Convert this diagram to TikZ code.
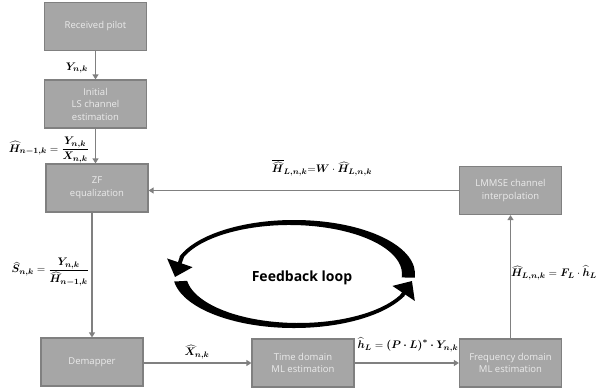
\documentclass[tikz,border=0pt]{standalone}
\usepackage{amsmath}
\usepackage{amssymb}
\usepackage{bm}
\usepackage{fontspec}
\setmainfont{Open Sans}
\usetikzlibrary{arrows.meta,calc}
\definecolor{boxfill}{HTML}{A6A6A6}
\definecolor{boxline}{HTML}{808080}
\definecolor{boxtext}{HTML}{EBEBEB}
\definecolor{flowline}{HTML}{808080}

\begin{document}
\begin{tikzpicture}[x=1pt,y=1pt,
    block/.style={draw=boxline,line width=1.2pt,fill=boxfill,text=boxtext,
      minimum width=102pt,minimum height=48pt,align=center,inner sep=2pt,
      font=\fontsize{9.5}{12.5}\selectfont},
    flow/.style={draw=flowline,line width=1.6pt,-{Triangle[width=6pt,length=5pt]}},
    loophead/.style={line width=4pt,-{Triangle[width=26pt,length=15pt]}},
    eq/.style={font=\fontsize{11}{13}\selectfont,inner sep=1pt}]
    \useasboundingbox (0,0) rectangle (603,391);
    % blocks
    \node[block] (pilot) at (95.5,364.5) {Received pilot};
    \node[block] (ls) at (95.5,287) {Initial\\LS channel\\estimation};
    \node[block] (zf) at (97,203) {ZF\\equalization};
    \node[block] (dm) at (92,29) {Demapper};
    \node[block] (tml) at (303,28) {Time domain\\ML estimation};
    \node[block] (fml) at (510.5,28) {Frequency domain\\ML estimation};
    \node[block] (lmmse) at (510.5,200.5) {LMMSE channel\\interpolation};
    % connectors
    \draw[flow] (pilot) -- (ls);
    \draw[flow] (ls.south) -- (ls.south |- zf.north);
    \draw[flow] (zf.south -| dm.north) -- (dm.north);
    \draw[flow] (dm.east |- tml) -- (tml.west);
    \draw[flow] (tml) -- (fml);
    \draw[flow] (fml) -- (lmmse);
    \draw[flow] (lmmse.west) -- (lmmse.west -| zf.east);
    % labels
    \node[eq,anchor=east] (ylab) at (89,323) {$\bm{Y_{n,k}}$};
    \node[eq,anchor=east] (hlab) at (90,241)
      {$\widehat{\bm H}_{\bm{n-1,k}}=\dfrac{\bm{Y_{n,k}}}{\bm{X_{n,k}}}$};
    \node[eq,anchor=east] (slab) at (90,119)
      {$\widehat{\bm S}_{\bm{n,k}}=\dfrac{\bm{Y_{n,k}}}{\widehat{\bm H}_{\bm{n-1,k}}}$};
    \node[eq] (xlab) at (197,39) {$\widehat{\bm X}_{\bm{n,k}}$};
    \node[eq] (tlab) at (408,46)
      {$\widehat{\bm h}_{\bm L}=\bm{(P\cdot L)^{*}\cdot Y_{n,k}}$};
    \node[eq] (flab) at (554,118)
      {$\widehat{\bm H}_{\bm{L,n,k}}=\bm{F_L}\cdot\widehat{\bm h}_{\bm L}$};
    \node[eq] (wlab) at (322,223)
      {$\overline{\widehat{\bm H}}_{\bm{L,n,k}}{=}\bm{W}\cdot\widehat{\bm H}_{\bm{L,n,k}}$};
    % feedback loop
    \coordinate (fb) at (294,117);
    \fill (fb) ++(-4:121 and 54) arc[start angle=-4,end angle=161,x radius=121,y radius=54]
      -- ($(fb)+(-4.5,0)+(161:112.5 and 49)$)
      arc[start angle=161,end angle=-4,x radius=112.5,y radius=49] -- cycle;
    \draw[loophead] ($(fb)+(-2.25,0)+(160:116.75 and 51.5)$) -- (175,114);
    \fill (fb) ++(188:121 and 54) arc[start angle=188,end angle=336,x radius=121,y radius=54]
      -- ($(fb)+(4.5,0)+(336:112.5 and 49)$)
      arc[start angle=336,end angle=188,x radius=112.5,y radius=49] -- cycle;
    \draw[loophead] ($(fb)+(2.25,0)+(335:116.75 and 51.5)$) -- (412,110);
    \node[font=\fontsize{14}{16}\selectfont\bfseries] (fbtext) at (302,113) {Feedback loop};
  \end{tikzpicture}
\end{document}
